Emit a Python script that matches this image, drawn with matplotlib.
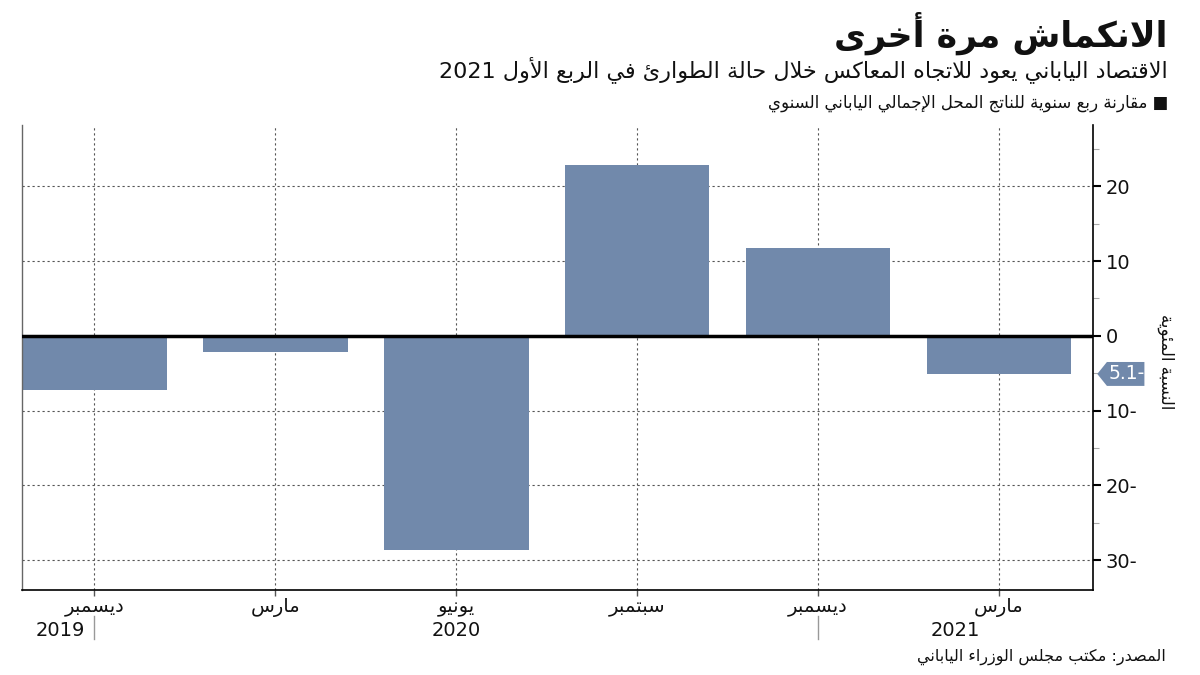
import re
import matplotlib
matplotlib.use("Agg")
import matplotlib.pyplot as plt
import matplotlib.transforms as mtransforms
from matplotlib.patches import Polygon

# ---------------- data ----------------
months = ["ديسمبر", "مارس", "يونيو", "سبتمبر", "ديسمبر", "مارس"]
values = [-7.3, -2.1, -28.6, 22.9, 11.7, -5.1]
years = ["2019", "2020", "2021"]
year_pos = [-0.05, 2.0, 4.76]
year_sep = [0, 4]
yticks = [20, 10, 0, -10, -20, -30]

title = "الانكماش مرة أخرى"
subtitle = "الاقتصاد الياباني يعود للاتجاه المعاكس خلال حالة الطوارئ في الربع الأول 2021"
legend_text = "■ مقارنة ربع سنوية للناتج المحل الإجمالي الياباني السنوي"
ylabel = "النسبة المئوية"
source = "المصدر: مكتب مجلس الوزراء الياباني"

BAR = "#7189ab"

# ---------------- Arabic shaping ----------------
F = {}
def _add(ch, base, n):
    forms = [chr(base + k) for k in range(n)]
    if n == 1:
        F[ch] = (forms[0], None, None, None)
    elif n == 2:
        F[ch] = (forms[0], forms[1], None, None)
    else:
        F[ch] = tuple(forms)

_add('\u0621', 0xFE80, 1)
_add('\u0622', 0xFE81, 2)
_add('\u0623', 0xFE83, 2)
_add('\u0624', 0xFE85, 2)
_add('\u0625', 0xFE87, 2)
_add('\u0626', 0xFE89, 4)
_add('\u0627', 0xFE8D, 2)
_add('\u0628', 0xFE8F, 4)
_add('\u0629', 0xFE93, 2)
_add('\u062A', 0xFE95, 4)
_add('\u062B', 0xFE99, 4)
_add('\u062C', 0xFE9D, 4)
_add('\u062D', 0xFEA1, 4)
_add('\u062E', 0xFEA5, 4)
_add('\u062F', 0xFEA9, 2)
_add('\u0630', 0xFEAB, 2)
_add('\u0631', 0xFEAD, 2)
_add('\u0632', 0xFEAF, 2)
_add('\u0633', 0xFEB1, 4)
_add('\u0634', 0xFEB5, 4)
_add('\u0635', 0xFEB9, 4)
_add('\u0636', 0xFEBD, 4)
_add('\u0637', 0xFEC1, 4)
_add('\u0638', 0xFEC5, 4)
_add('\u0639', 0xFEC9, 4)
_add('\u063A', 0xFECD, 4)
_add('\u0641', 0xFED1, 4)
_add('\u0642', 0xFED5, 4)
_add('\u0643', 0xFED9, 4)
_add('\u0644', 0xFEDD, 4)
_add('\u0645', 0xFEE1, 4)
_add('\u0646', 0xFEE5, 4)
_add('\u0647', 0xFEE9, 4)
_add('\u0648', 0xFEED, 2)
_add('\u0649', 0xFEEF, 2)
_add('\u064A', 0xFEF1, 4)

LAMALEF = {'\u0622': ('\uFEF5', '\uFEF6'), '\u0623': ('\uFEF7', '\uFEF8'),
           '\u0625': ('\uFEF9', '\uFEFA'), '\u0627': ('\uFEFB', '\uFEFC')}


def _joins_prev(t):
    if isinstance(t, tuple):
        return True
    f = F.get(t)
    return f is not None and f[1] is not None


def _joins_next(t):
    if isinstance(t, tuple):
        return False
    f = F.get(t)
    return f is not None and f[2] is not None


def shape(text):
    toks = []
    i = 0
    while i < len(text):
        c = text[i]
        if c == '\u0644' and i + 1 < len(text) and text[i + 1] in LAMALEF:
            toks.append(('LA', text[i + 1]))
            i += 2
        else:
            toks.append(c)
            i += 1
    out = []
    for k, t in enumerate(toks):
        prev = toks[k - 1] if k > 0 else None
        nxt = toks[k + 1] if k + 1 < len(toks) else None
        cp = prev is not None and _joins_prev(t) and _joins_next(prev)
        cn = nxt is not None and _joins_next(t) and _joins_prev(nxt)
        if isinstance(t, tuple):
            iso, fin = LAMALEF[t[1]]
            out.append(fin if cp else iso)
        elif t in F:
            iso, fin, ini, med = F[t]
            if cp and cn:
                out.append(med)
            elif cp:
                out.append(fin)
            elif cn:
                out.append(ini)
            else:
                out.append(iso)
        else:
            out.append(t)
    return ''.join(out)


def ar(text):
    s = shape(text)
    runs = re.findall(r'[0-9A-Za-z.]+|[^0-9A-Za-z.]+', s)
    res = []
    for r in reversed(runs):
        if re.match(r'[0-9A-Za-z]', r):
            res.append(r)
        else:
            res.append(r[::-1])
    return ''.join(res)


def numlab(v):
    return f"{abs(v):g}-" if v < 0 else f"{v:g}"

# ---------------- figure ----------------
plt.rcParams['font.family'] = ['DejaVu Sans']
fig = plt.figure(figsize=(12, 6.75), dpi=100)
ax = fig.add_axes([22 / 1200, 1 - 590 / 675, (1093 - 22) / 1200, (590 - 125) / 675])

x = list(range(len(values)))
ax.bar(x, values, width=0.8, color=BAR, zorder=2)
ax.axhline(0, color='black', lw=2.5, zorder=3)

ax.set_xlim(-0.4, 5.52)
ax.set_ylim(-34, 28.2)

ax.set_yticks(yticks)
ax.set_yticks([25, 15, 5, -5, -15, -25], minor=True)
ax.yaxis.tick_right()
ax.set_yticklabels([numlab(v) for v in yticks], fontsize=14, color='#111111')
ax.tick_params(axis='y', which='major', length=6, width=1.5, color='black', pad=3)
ax.tick_params(axis='y', which='minor', length=4, width=0.8, color='#aaaaaa')

ax.set_xticks(x)
ax.set_xticklabels([ar(m) for m in months], fontsize=14, color='#111111')
ax.tick_params(axis='x', length=4, width=1, color='#555555', pad=2)

ax.grid(True, which='major', linestyle=(0, (2, 2.5)), color='#555555', lw=0.8, zorder=1)
ax.set_axisbelow(True)

ax.spines['top'].set_visible(False)
ax.spines['left'].set_color('#666666')
ax.spines['left'].set_linewidth(1)
ax.spines['right'].set_color('black')
ax.spines['right'].set_linewidth(1.2)
ax.spines['bottom'].set_color('black')
ax.spines['bottom'].set_linewidth(1.2)

# year labels and separators
trans = mtransforms.blended_transform_factory(ax.transData, ax.transAxes)
for yr, xp in zip(years, year_pos):
    ha = 'right' if xp < 0 else 'center'
    ax.text(xp, -0.087, yr, transform=trans, ha=ha, va='center', fontsize=14, color='#111111')
for xs in year_sep:
    ax.plot([xs, xs], [-0.055, -0.105], transform=trans, color='#999999', lw=1, clip_on=False)

# last value callout
last = values[-1]
tr2 = mtransforms.blended_transform_factory(ax.transAxes, ax.transData)
h = 1.6
poly = Polygon([(1.004, last), (1.013, last + h), (1.048, last + h), (1.048, last - h), (1.013, last - h)],
               closed=True, transform=tr2, facecolor=BAR, edgecolor='none', clip_on=False, zorder=5)
ax.add_patch(poly)
ax.text(1.031, last, numlab(last), transform=tr2, ha='center', va='center', color='white',
        fontsize=13.5, zorder=6, clip_on=False)

# y label
fig.text(1166 / 1200, 1 - 362 / 675, ar(ylabel), rotation=-90, ha='center', va='center',
         fontsize=12, color='#111111')

# titles
fig.text(1168 / 1200, 1 - 33 / 675, ar(title), ha='right', va='center', fontsize=25,
         fontweight='bold', color='#111111')
fig.text(1168 / 1200, 1 - 70 / 675, ar(subtitle), ha='right', va='center', fontsize=16,
         color='#111111')
fig.text(1168 / 1200, 1 - 103 / 675, ar(legend_text), ha='right', va='center', fontsize=12,
         color='#111111')
fig.text(1166 / 1200, 1 - 657 / 675, ar(source), ha='right', va='center', fontsize=11.5,
         color='#111111')

fig.savefig('out.png', dpi=100)
